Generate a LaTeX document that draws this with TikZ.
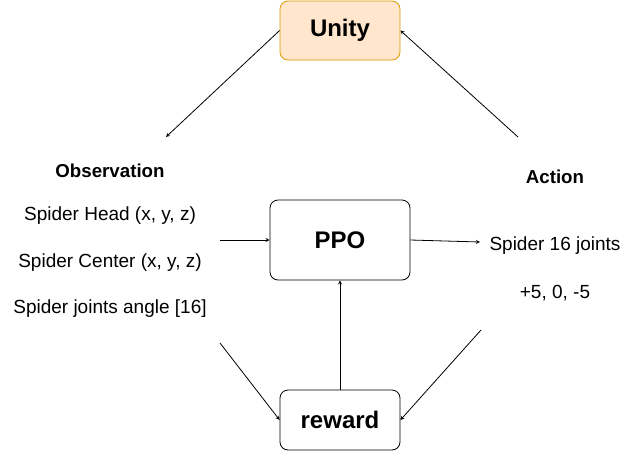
\documentclass[tikz,border=0pt]{standalone}
\usepackage{fontspec}
\setmainfont{Liberation Sans}
\usepackage{xcolor}
\definecolor{unityfill}{HTML}{FFE6CC}
\definecolor{unityline}{HTML}{D79B00}
\tikzset{
  box/.style={draw, rounded corners=8pt, line width=0.8pt, inner sep=0pt,
    font=\fontsize{24}{27}\selectfont\bfseries},
  txt/.style={font=\fontsize{19}{22}\selectfont},
  head/.style={font=\fontsize{18.7}{22}\selectfont\bfseries},
}
\begin{document}
\begin{tikzpicture}[x=1pt, y=-1pt, >=stealth, line width=0.8pt]

    \useasboundingbox (0, 0) rectangle (630, 451);

    \node [box, fill=unityfill, draw=unityline, minimum width=120pt, minimum height=59pt] (unity) at (340, 30.5) {Unity};
    \node [box, minimum width=140pt, minimum height=80pt] (ppo) at (340, 240) {PPO};
    \node [box, minimum width=120pt, minimum height=60pt] (reward) at (340, 420) {reward};

    \node [head] (obs) at (110, 171) {Observation};
    \node [txt] (head) at (110, 216) {Spider Head (x, y, z)};
    \node [txt] (center) at (110, 263) {Spider Center (x, y, z)};
    \node [txt] (angle) at (110, 309) {Spider joints angle [16]};
    \node [head] (act) at (555, 177) {Action};
    \node [txt] (joints) at (555, 246) {Spider 16 joints};
    \node [txt] (delta) at (555, 293) {+5, 0, -5};

    \coordinate (obstop) at (166, 137);
    \coordinate (acttop) at (518, 137);
    \coordinate (obsin) at (220, 240);
    \coordinate (actout) at (480, 242);
    \coordinate (obslow) at (220, 343);
    \coordinate (actlow) at (481, 330);

    \draw [->] (unity.west) to (obstop);
    \draw [->] (acttop) to (unity.east);
    \draw [->] (obsin) to (ppo.west);
    \draw [->] (ppo.east) to (actout);
    \draw [->] (reward.north) to (ppo.south);
    \draw [->] (obslow) to (reward.west);
    \draw [->] (actlow) to (reward.east);

  \end{tikzpicture}
\end{document}
